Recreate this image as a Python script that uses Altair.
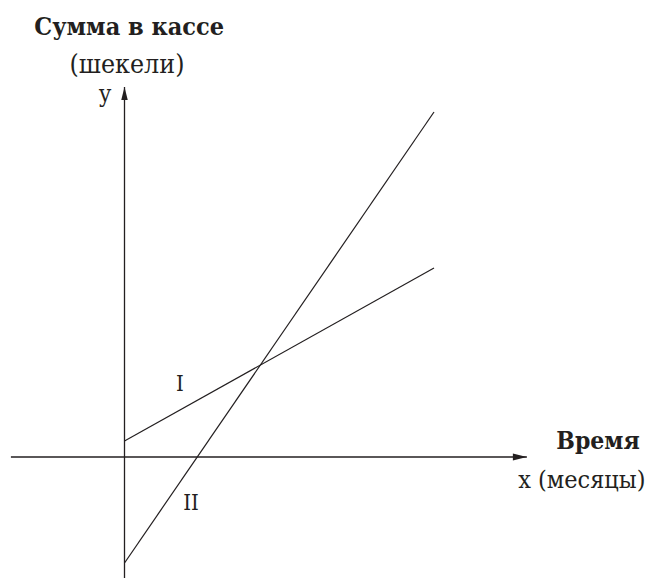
import altair as alt
import pandas as pd

# ---- data (x: months, y: shekels; schematic) ----
months = [0, 10]
line_I = [1.6, 18.9]
line_II = [-10.6, 34.5]

# axes extents (data units)
x_axis_from, x_axis_to = -3.67, 13.0
y_axis_from, y_axis_to = -12.9, 37.0

# text labels
label_text = ["Сумма в кассе", "(шекели)", "y", "Время", "x (месяцы)", "I", "II"]
label_x = [0.15, 0.08, -0.63, 15.3, 12.72, 1.79, 2.15]
label_y = [43.0, 39.2, 36.2, 1.5, -2.3, 7.3, -4.6]
label_bold = [True, False, False, True, False, False, False]
label_align = ["center", "center", "center", "center", "left", "center", "center"]
label_size = [25, 26.5, 24, 24.5, 25, 22, 22]

INK = "#231f20"
FONT = "DejaVu Serif Condensed, DejaVu Serif, serif"

W, H = 640, 570
xs = alt.Scale(domain=[-3.764, 16.914], nice=False, zero=False)
ys = alt.Scale(domain=[-12.1, 44.9], nice=False, zero=False)

lines_df = pd.DataFrame({
    "x": months * 2,
    "y": line_I + line_II,
    "s": ["I"] * 2 + ["II"] * 2,
})
lines = alt.Chart(lines_df).mark_line(color=INK, strokeWidth=1.2).encode(
    x=alt.X("x:Q", scale=xs, axis=None),
    y=alt.Y("y:Q", scale=ys, axis=None),
    detail="s:N",
)

axes_df = pd.DataFrame({
    "x": [x_axis_from, x_axis_to, 0, 0],
    "y": [0, 0, y_axis_from, y_axis_to],
    "a": ["x", "x", "y", "y"],
})
axes = alt.Chart(axes_df).mark_line(color=INK, strokeWidth=1.3).encode(
    x=alt.X("x:Q", scale=xs, axis=None),
    y=alt.Y("y:Q", scale=ys, axis=None),
    detail="a:N",
)

arrow_up = alt.Chart(pd.DataFrame({"x": [0], "y": [y_axis_to - 0.65]})).mark_point(
    shape="M0,-1L0.5,1L-0.5,1Z", size=169, filled=True, color=INK, opacity=1, strokeWidth=0
).encode(x=alt.X("x:Q", scale=xs, axis=None), y=alt.Y("y:Q", scale=ys, axis=None))

arrow_right = alt.Chart(pd.DataFrame({"x": [x_axis_to - 7 / 30.95], "y": [0]})).mark_point(
    shape="M1,0L-1,-0.5L-1,0.5Z", size=196, filled=True, color=INK, opacity=1, strokeWidth=0
).encode(x=alt.X("x:Q", scale=xs, axis=None), y=alt.Y("y:Q", scale=ys, axis=None))

lab_df = pd.DataFrame({"t": label_text, "x": label_x, "y": label_y,
                       "b": label_bold, "al": label_align, "fs": label_size})

def text_layer(df, bold, align):
    return alt.Chart(df).mark_text(
        font=FONT, fontWeight="bold" if bold else "normal",
        align=align, baseline="middle", color=INK
    ).encode(
        x=alt.X("x:Q", scale=xs, axis=None),
        y=alt.Y("y:Q", scale=ys, axis=None),
        size=alt.Size("fs:Q", scale=None, legend=None),
        text="t:N",
    )

texts = []
for b in [True, False]:
    for al in ["center", "left"]:
        sub = lab_df[(lab_df.b == b) & (lab_df.al == al)]
        if len(sub):
            texts.append(text_layer(sub, b, al))

chart = alt.layer(axes, lines, arrow_up, arrow_right, *texts).properties(
    width=W, height=H, padding=0, autosize=alt.AutoSizeParams(type="none")
).configure_view(stroke=None)

chart.save("out.html", embed_options={"renderer": "svg", "actions": False})
